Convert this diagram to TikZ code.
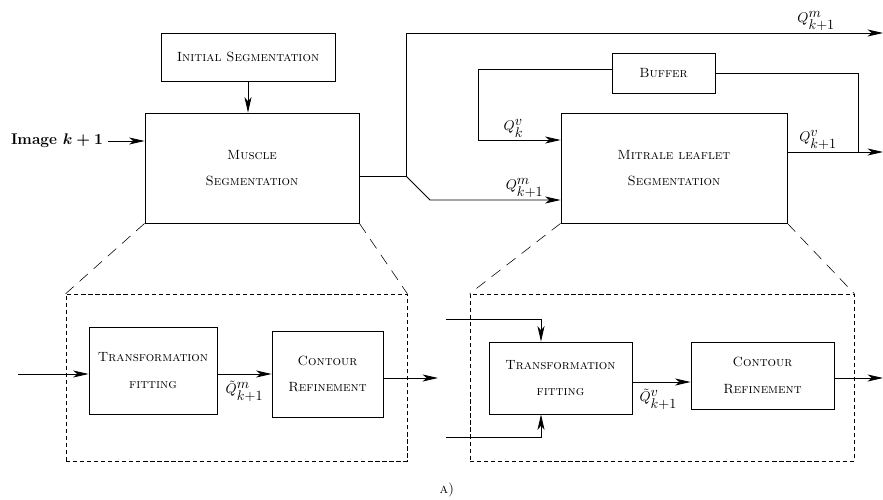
\documentclass[tikz,border=0pt]{standalone}
\usetikzlibrary{arrows.meta}
\newcommand{\qlab}[3]{$#1^{\textstyle #2}_{\textstyle #3}$}
\begin{document}
\begin{tikzpicture}[x=0.025cm,y=-0.025cm,>={Stealth[length=11pt,width=5pt,inset=3pt]},
    blk/.style={draw,semithick,align=center,font=\fontsize{9.5}{11.5}\selectfont\scshape,inner sep=0pt},
    zoombox/.style={draw,densely dashed,inner sep=0pt},
    zoomline/.style={dash pattern=on 8pt off 5.5pt},
    qtext/.style={inner sep=1.5pt}]
        \useasboundingbox (0,0) rectangle (883,500);
        % top level
        \node[blk,minimum width=4.35cm,minimum height=1.2cm] (init) at (248,57) {Initial Segmentation};
        \node[blk,minimum width=5.35cm,minimum height=2.75cm] (mus) at (252,168) {Muscle\\[7.5pt] Segmentation};
        \node[blk,minimum width=5.65cm,minimum height=2.75cm] (mit) at (674,168) {Mitrale leaflet\\[7.5pt] Segmentation};
        \node[blk,minimum width=2.575cm,minimum height=1cm] (buf) at (663.5,73) {Buffer};
        \node[font=\fontsize{11}{13}\selectfont\bfseries\boldmath] (img) at (57,141) {Image $k+1$};
        \coordinate (split) at (406,176); \coordinate (bend) at (430,200);
        \coordinate (qout) at (883,33); \coordinate (fbL) at (478,69);
        \coordinate (fbR) at (858,73); \coordinate (vout) at (883,152);
        \coordinate (vin) at (478,140);
        \draw[->, semithick] (init.south) -- (init.south |- mus.north);
        \draw[->, semithick] (img.east) -- (img.east -| mus.west);
        \draw[semithick] (mus.east |- split) -- (split);
        \draw[->, semithick] (split) |- node[qtext,pos=0.93,above]{\qlab{Q}{m}{k{+}1}} (qout);
        \draw[->, semithick] (split) -- (bend) -- node[qtext,pos=0.725,above]{\qlab{Q}{m}{k{+}1}} (bend -| mit.west);
        \draw[->, semithick] (buf.west |- fbL) -- (fbL) -- (vin) -- node[qtext,pos=0.43,above]{\qlab{Q}{v}{k}} (vin -| mit.west);
        \draw[semithick] (buf.east) -- (fbR) -- (fbR |- vout);
        \draw[->, semithick] (mit.east |- vout) -- node[qtext,pos=0.32,above]{\qlab{Q}{v}{k{+}1}} (vout);
        % zoom boxes
        \node[zoombox,minimum width=8.525cm,minimum height=4.175cm] (zoomL) at (236.5,377.5) {};
        \node[zoombox,minimum width=9.6cm,minimum height=4.175cm] (zoomR) at (662,377.5) {};
        \draw[zoomline] (mus.south west) -- (zoomL.north west);
        \draw[zoomline] (mus.south east) -- (zoomL.north east);
        \draw[zoomline] (mit.south west) -- (zoomR.north west);
        \draw[zoomline] (mit.south east) -- (zoomR.north east);
        % left detail
        \node[blk,minimum width=3.2cm,minimum height=2.175cm] (tfL) at (153,370.5) {Transformation\\[7.5pt] fitting};
        \node[blk,minimum width=2.775cm,minimum height=2.15cm] (crL) at (327.5,374) {Contour\\[7.5pt] Refinement};
        \coordinate (inL) at (18,374); \coordinate (outL) at (438,378);
        \draw[->, semithick] (inL) -- (inL -| tfL.west);
        \draw[->, semithick] (tfL.east |- crL) -- node[qtext,below=3pt]{\qlab{\tilde{Q}}{m}{k{+}1}} (crL.west);
        \draw[->, semithick] (crL.east |- outL) -- (outL);
        % right detail
        \node[blk,minimum width=3.575cm,minimum height=1.8cm] (tfR) at (560.5,378) {Transformation\\[7.5pt] fitting};
        \node[blk,minimum width=3.575cm,minimum height=1.675cm] (crR) at (762.5,375.5) {Contour\\[7.5pt] Refinement};
        \coordinate (inRa) at (446,319); \coordinate (inRb) at (446,437);
        \coordinate (tapR) at (541,319); \coordinate (outR) at (883,378);
        \coordinate (midR) at (632,382);
        \draw[->, semithick] (inRa) -- (tapR) -- (tapR |- tfR.north);
        \draw[->, semithick] (inRb) -- (inRb -| tapR) -- (tapR |- tfR.south);
        \draw[->, semithick] (midR) -- node[qtext,pos=0.45,below=3pt]{\qlab{\tilde{Q}}{v}{k{+}1}} (midR -| crR.west);
        \draw[->, semithick] (crR.east |- outR) -- (outR);
        \node (cap) at (447,490) {\textsc{a)}};
\end{tikzpicture}
\end{document}
